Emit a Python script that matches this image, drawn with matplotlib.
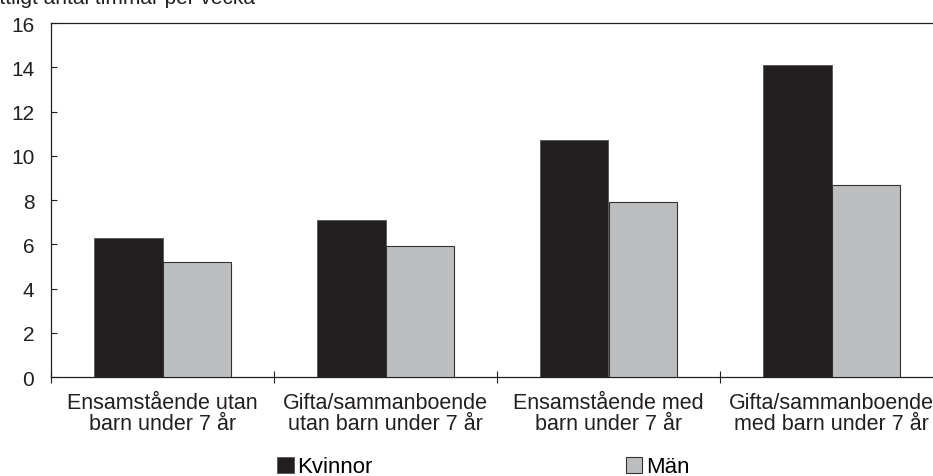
import matplotlib
matplotlib.use("Agg")
import matplotlib.pyplot as plt
import numpy as np
from matplotlib.patches import Patch

categories = ["Ensamstående utan\nbarn under 7 år",
              "Gifta/sammanboende\nutan barn under 7 år",
              "Ensamstående med\nbarn under 7 år",
              "Gifta/sammanboende\nmed barn under 7 år"]
kvinnor = [6.3, 7.1, 10.7, 14.1]
man = [5.2, 5.9, 7.9, 8.7]
series_names = ["Kvinnor", "Män"]
yticks = [0, 2, 4, 6, 8, 10, 12, 14, 16]
title = "Genomsnittligt antal timmar per vecka"

plt.rcParams['font.family'] = ['Liberation Sans', 'DejaVu Sans']

W, H = 933, 477
fig = plt.figure(figsize=(W / 100, H / 100), dpi=100)
ax = fig.add_axes([51 / W, 1 - 378 / H, (943 - 51) / W, (378 - 24) / H])

x = np.arange(len(categories))
bw = 0.305
c_k = "#231f20"
c_m = "#bcbec0"
ax.bar(x - bw / 2, kvinnor, bw, color=c_k, edgecolor="#555555", linewidth=0.6, zorder=3)
ax.bar(x + bw / 2, man, bw, color=c_m, edgecolor="#333333", linewidth=0.8, zorder=3)

ax.set_xlim(-0.5, len(categories) - 0.5)
ax.set_ylim(0, 16)
ax.set_yticks(yticks)
ax.set_yticklabels([str(v) for v in yticks], fontsize=15, color="#231f20")
ax.tick_params(axis='y', direction='in', length=4, width=0.8, pad=12, color="#231f20")

ax.set_xticks(x)
ax.set_xticklabels(categories, fontsize=15.5, color="#231f20", linespacing=1.0)
ax.tick_params(axis='x', which='major', length=0, pad=11)
ax.set_xticks(np.arange(-0.5, len(categories), 1.0), minor=True)
ax.tick_params(axis='x', which='minor', direction='inout', length=9, width=0.8, color="#231f20")

for s in ax.spines.values():
    s.set_color("#231f20")
    s.set_linewidth(0.9)

fig.text(255 / W, 1 - 4 / H, title, ha='right', va='baseline', fontsize=15, color="#231f20")

handles = [Patch(facecolor=c_k, edgecolor="#555555", linewidth=0.6),
           Patch(facecolor=c_m, edgecolor="#333333", linewidth=0.8)]
fig.legend(handles, series_names, loc='center left', bbox_to_anchor=(277 / W, 1 - 468 / H),
           ncol=2, frameon=False, fontsize=16, handlelength=0.75, handleheight=0.75,
           handletextpad=0.15, columnspacing=11.4, borderpad=0, borderaxespad=0)

fig.savefig("out.png", dpi=100)
